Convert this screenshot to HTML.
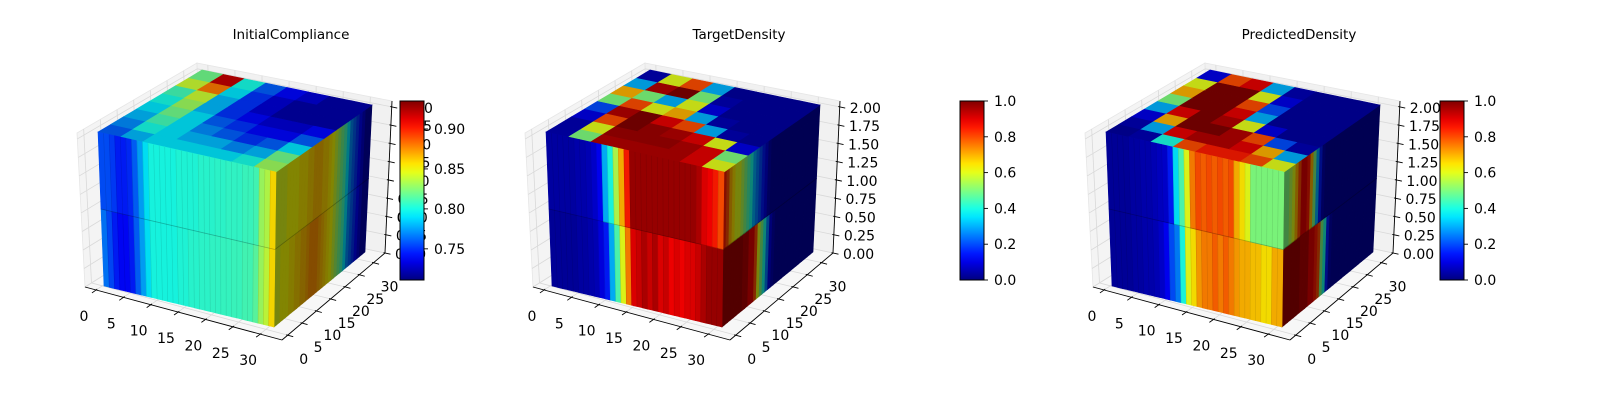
<!DOCTYPE html>
<html><head><meta charset="utf-8"><style>
html,body{margin:0;padding:0;background:#fff;}
svg{display:block;font-family:"DejaVu Sans","Liberation Sans",sans-serif;}
</style></head><body>
<svg id="fig" width="1600" height="400" viewBox="0 0 1600 400" xmlns="http://www.w3.org/2000/svg">
<rect x="0" y="0" width="1600" height="400" fill="#fff"/>
<text x="291" y="39" text-anchor="middle" font-size="13.5">InitialCompliance</text>
<text x="739" y="39" text-anchor="middle" font-size="13.5">TargetDensity</text>
<text x="1299" y="39" text-anchor="middle" font-size="13.5">PredictedDensity</text>
</svg>
<script>
// ---- data ----
const xTicks = [0,5,10,15,20,25,30];
const yTicks = [0,5,10,15,20,25,30];
const zTicks = [0,0.25,0.5,0.75,1.0,1.25,1.5,1.75,2.0];
const zTickLabels = ["0.00","0.25","0.50","0.75","1.00","1.25","1.50","1.75","2.00"];
const cb1Ticks = [0.75,0.80,0.85,0.90];
const cb1Labels = ["0.75","0.80","0.85","0.90"];
const cbTicks = [0,0.2,0.4,0.6,0.8,1.0];
const cbLabels = ["0.0","0.2","0.4","0.6","0.8","1.0"];

const p1FrontTop = [0.756,0.756,0.752,0.745,0.745,0.748,0.76,0.775,0.79,0.80,0.80,0.80,0.80,0.80,0.802,0.802,0.802,0.802,0.804,0.804,0.804,0.805,0.805,0.806,0.806,0.806,0.808,0.808,0.81,0.83,0.835,0.858];
const p1FrontBot = [0.765,0.755,0.745,0.74,0.74,0.745,0.76,0.775,0.79,0.80,0.80,0.80,0.80,0.80,0.802,0.802,0.804,0.804,0.805,0.805,0.806,0.806,0.807,0.807,0.808,0.808,0.81,0.81,0.815,0.83,0.838,0.858];
const p1RightTop = [0.845,0.845,0.845,0.845,0.85,0.85,0.85,0.85,0.855,0.855,0.855,0.86,0.86,0.865,0.865,0.865,0.86,0.86,0.855,0.85,0.84,0.83,0.82,0.81,0.79,0.77,0.76,0.75,0.74,0.73,0.72,0.72];
const p1RightBot = [0.845,0.845,0.85,0.85,0.85,0.855,0.855,0.86,0.86,0.865,0.865,0.87,0.875,0.875,0.875,0.87,0.865,0.86,0.855,0.85,0.84,0.83,0.82,0.81,0.79,0.77,0.76,0.75,0.74,0.73,0.72,0.72];
const p1Top = [
 [0.76,0.78,0.79,0.79,0.79,0.79,0.80,0.83],
 [0.77,0.80,0.79,0.78,0.78,0.77,0.78,0.82],
 [0.78,0.81,0.79,0.77,0.76,0.75,0.76,0.79],
 [0.79,0.82,0.79,0.76,0.75,0.74,0.74,0.76],
 [0.80,0.83,0.78,0.75,0.74,0.73,0.73,0.74],
 [0.81,0.84,0.78,0.75,0.73,0.72,0.72,0.72],
 [0.84,0.88,0.79,0.75,0.73,0.72,0.72,0.72],
 [0.82,0.92,0.80,0.76,0.74,0.73,0.72,0.72]];

const p2FrontTop = [0.04,0.04,0.04,0.04,0.04,0.05,0.05,0.06,0.08,0.12,0.3,0.4,0.55,0.7,0.85,0.97,0.97,0.97,0.97,0.97,0.97,0.97,0.97,0.97,0.97,0.97,0.97,0.95,0.9,0.88,0.85,0.8];
const p2FrontBot = [0.03,0.03,0.03,0.03,0.03,0.04,0.04,0.05,0.06,0.1,0.15,0.3,0.45,0.6,0.75,0.9,0.92,0.95,0.92,0.95,0.9,0.92,0.88,0.9,0.88,0.9,0.9,0.92,0.95,0.97,0.97,0.97];
const p2RightTop = [0.85,0.8,0.7,0.65,0.6,0.6,0.55,0.5,0.45,0.4,0.3,0.25,0.2,0.15,0.1,0.05,0.03,0.03,0.03,0.03,0.03,0.03,0.03,0.03,0.03,0.03,0.03,0.03,0.03,0.03,0.03,0.03];
const p2RightBot = [0.97,0.97,0.97,0.97,0.97,0.97,0.97,0.95,0.95,0.9,0.9,0.8,0.6,0.5,0.4,0.25,0.1,0.05,0.03,0.03,0.03,0.03,0.03,0.03,0.03,0.03,0.03,0.03,0.03,0.03,0.03,0.03];
const p2Top = [
 [0.05,0.5,0.95,0.95,0.95,0.95,0.9,0.6],
 [0.05,0.6,0.97,0.97,0.97,0.95,0.9,0.5],
 [0.1,0.8,1.0,0.97,0.95,0.9,0.6,0.1],
 [0.2,0.95,1.0,0.9,0.8,0.3,0.05,0.03],
 [0.5,0.8,0.6,0.7,0.3,0.05,0.03,0.03],
 [0.7,0.5,0.3,0.6,0.1,0.03,0.03,0.03],
 [0.3,0.95,1.0,0.5,0.05,0.03,0.03,0.03],
 [0.05,0.6,0.8,0.3,0.03,0.03,0.03,0.03]];

const p3FrontTop = [0.03,0.03,0.03,0.03,0.04,0.04,0.05,0.05,0.06,0.07,0.08,0.15,0.35,0.45,0.6,0.75,0.8,0.78,0.8,0.78,0.8,0.78,0.8,0.7,0.65,0.6,0.5,0.5,0.5,0.5,0.5,0.5];
const p3FrontBot = [0.03,0.03,0.03,0.03,0.04,0.04,0.05,0.05,0.06,0.08,0.12,0.2,0.25,0.4,0.6,0.65,0.72,0.75,0.75,0.78,0.75,0.78,0.75,0.72,0.7,0.7,0.68,0.68,0.65,0.65,0.7,0.7];
const p3RightTop = [0.5,0.5,0.55,0.6,0.7,0.8,0.9,0.9,0.85,0.7,0.5,0.3,0.15,0.05,0.03,0.03,0.03,0.03,0.03,0.03,0.03,0.03,0.03,0.03,0.03,0.03,0.03,0.03,0.03,0.03,0.03,0.03];
const p3RightBot = [0.97,0.97,0.97,0.97,0.97,0.97,0.95,0.95,0.95,0.9,0.9,0.85,0.8,0.5,0.4,0.15,0.05,0.03,0.03,0.03,0.03,0.03,0.03,0.03,0.03,0.03,0.03,0.03,0.03,0.03,0.03,0.03];
const p3Top = [
 [0.03,0.05,0.4,0.8,0.85,0.85,0.8,0.6],
 [0.05,0.3,0.9,0.95,0.95,0.9,0.7,0.3],
 [0.1,0.7,1.0,1.0,0.95,0.8,0.2,0.05],
 [0.3,0.9,1.0,0.95,0.6,0.1,0.03,0.03],
 [0.5,1.0,1.0,0.9,0.3,0.03,0.03,0.03],
 [0.7,1.0,1.0,0.8,0.2,0.03,0.03,0.03],
 [0.6,1.0,1.0,0.6,0.1,0.03,0.03,0.03],
 [0.1,0.8,0.9,0.3,0.05,0.03,0.03,0.03]];

// ---- helpers ----
const svg = document.getElementById('fig');
const NS = 'http://www.w3.org/2000/svg';
function mk(tag, attrs){ const e=document.createElementNS(NS,tag); for(const k in attrs) e.setAttribute(k,attrs[k]); svg.appendChild(e); return e; }
function cl(v){return Math.max(0,Math.min(1,v));}
function jet(n){ n=cl(n); return [cl(1.5-Math.abs(4*n-3)), cl(1.5-Math.abs(4*n-2)), cl(1.5-Math.abs(4*n-1))]; }
function rgb(n,s){ const c=jet(n); return 'rgb('+c.map(v=>Math.round(v*s*255)).join(',')+')'; }
function lerp(a,b,t){return [a[0]+(b[0]-a[0])*t, a[1]+(b[1]-a[1])*t];}
function bil(q,u,v){ const a=lerp(q[0],q[1],u), b=lerp(q[2],q[3],u); return lerp(a,b,v); }
function quadPts(q,u0,u1,v0,v1){ return [bil(q,u0,v0),bil(q,u1,v0),bil(q,u1,v1),bil(q,u0,v1)].map(p=>p[0].toFixed(1)+','+p[1].toFixed(1)).join(' '); }
function P(p,dx){return [p[0]+dx,p[1]];}

function drawPlot(dx, key, ft, fb, rt, rb, top, vmin, vmax){
  const norm = v => (v - vmin)/(vmax - vmin);
  const A=P([645,63],dx), B=P([840,101],dx), C=P([833,253],dx), D=P([650,214],dx), E=P([525,133],dx), F=P([533,287],dx), G=P([730,340],dx);
  const pts = a => a.map(p=>p[0]+','+p[1]).join(' ');
  let e;
  e = mk('polygon',{points:pts([A,E,F,D]),fill:'#f4f4f4',stroke:'#e6e6e6','stroke-width':0.8});
  
  
  e = mk('polygon',{points:pts([A,B,C,D]),fill:'#f1f1f1',stroke:'#e6e6e6','stroke-width':0.8});
  
  
  e = mk('polygon',{points:pts([D,F,G,C]),fill:'#f7f7f7',stroke:'#e6e6e6','stroke-width':0.8});
  
  
  const fx = v => (v+2)/36, fz = z => z/2.08;
  const gl = (p,q,name) => { const l=mk('line',{x1:p[0],y1:p[1],x2:q[0],y2:q[1],stroke:'#d9d9d9','stroke-width':0.8});
    
     };
  xTicks.forEach(v=>{ const t=fx(v); const a=lerp(F,G,t), b=lerp(D,C,t), c=lerp(A,B,t); gl(a,b,key+'-x-grid'); gl(b,c,key+'-x-grid'); });
  yTicks.forEach(v=>{ const t=fx(v); const a=lerp(G,C,t), b=lerp(F,D,t), c=lerp(E,A,t); gl(a,b,key+'-y-grid'); gl(b,c,key+'-y-grid'); });
  zTicks.forEach(v=>{ const t=fz(v); const a=lerp(F,E,t), b=lerp(D,A,t), c=lerp(C,B,t); gl(a,b,key+'-z-grid'); gl(b,c,key+'-z-grid'); });
  [[F,G,'x-axis-line'],[G,C,'y-axis-line'],[C,B,'z-axis-line']].forEach(s=>{
    const l=mk('line',{x1:s[0][0],y1:s[0][1],x2:s[1][0],y2:s[1][1],stroke:'#000','stroke-width':0.9});
    
    
  });
  xTicks.forEach(v=>{ const p=lerp(F,G,fx(v));
    const l=mk('line',{x1:p[0]+1.3,y1:p[1]-0.8,x2:p[0]-4,y2:p[1]+3,stroke:'#000','stroke-width':0.9});
    
    
    const t=mk('text',{x:p[0]-12,y:p[1]+31,'text-anchor':'middle','font-size':14}); t.textContent=v;
    
    
  });
  yTicks.forEach(v=>{ const p=lerp(G,C,fx(v));
    const l=mk('line',{x1:p[0]-1.5,y1:p[1]-0.4,x2:p[0]+5.5,y2:p[1]+1.5,stroke:'#000','stroke-width':0.9});
    
    
    const t=mk('text',{x:p[0]+16,y:p[1]+29,'text-anchor':'middle','font-size':14}); t.textContent=v;
    
    
  });
  zTicks.forEach((v,i)=>{ const p=lerp(C,B,fz(v));
    const l=mk('line',{x1:p[0]-1.5,y1:p[1]-0.3,x2:p[0]+5.5,y2:p[1]+1.2,stroke:'#000','stroke-width':0.9});
    
    
    const t=mk('text',{x:p[0]+10,y:p[1]+6,'font-size':14}); t.textContent=zTickLabels[i];
    
    
  });
  const FBL=P([552,286],dx), FBR=P([722,327],dx), FTL=P([546,132],dx), FTR=P([724,172],dx), BTL=P([650,70],dx), BTR=P([820,105],dx), BBR=P([813,252],dx);
  const front=[FBL,FBR,FTL,FTR], right=[FBR,BBR,FTR,BTR], topQ=[FTL,FTR,BTL,BTR];
  const n=ft.length;
  for(let i=0;i<n;i++){
    [[rb,0,0.5],[rt,0.5,1]].forEach(h=>{
      const c=rgb(norm(h[0][i]),0.52);
      const r=mk('polygon',{points:quadPts(right,i/n,(i+1)/n,h[1],h[2]),fill:c,stroke:c,'stroke-width':0.6});
      
      
    });
  }
  const rows=top.length, cols=top[0].length;
  for(let r=0;r<rows;r++) for(let c=0;c<cols;c++){
    const f=rgb(norm(top[r][c]),0.85);
    const q=mk('polygon',{points:quadPts(topQ,c/cols,(c+1)/cols,r/rows,(r+1)/rows),fill:f,stroke:f,'stroke-width':0.6});
    
    
  }
  for(let i=0;i<n;i++){
    [[fb,0,0.5],[ft,0.5,1]].forEach(h=>{
      const c=rgb(norm(h[0][i]),0.95);
      const r=mk('polygon',{points:quadPts(front,i/n,(i+1)/n,h[1],h[2]),fill:c,stroke:c,'stroke-width':0.6});
      
      
    });
  }
  for(let i=1;i<n;i++){
    const a=bil(front,i/n,0), b=bil(front,i/n,1);
    const l=mk('line',{x1:a[0],y1:a[1],x2:b[0],y2:b[1],stroke:'rgba(0,0,0,0.12)','stroke-width':0.6});
    
    
  }
  const s1=bil(front,0,0.5), s2=bil(front,1,0.5), s3=bil(right,1,0.5);
  const seam=mk('polyline',{points:s1.join(',')+' '+s2.join(',')+' '+s3.join(','),fill:'none',stroke:'rgba(0,0,0,0.25)','stroke-width':0.8});
  
  
}

function drawColorbar(x, key, ticks, labels, vmin, vmax){
  const y0=101, y1=280, w=24;
  const gid='g'+key;
  const defs=mk('defs',{});
  const g=document.createElementNS(NS,'linearGradient');
  g.setAttribute('id',gid); g.setAttribute('x1','0'); g.setAttribute('y1','1'); g.setAttribute('x2','0'); g.setAttribute('y2','0');
  for(let i=0;i<=20;i++){ const s=document.createElementNS(NS,'stop'); s.setAttribute('offset',i/20); s.setAttribute('stop-color',rgb(i/20,1)); g.appendChild(s); }
  defs.appendChild(g);
  const r=mk('rect',{x:x,y:y0,width:w,height:y1-y0,fill:'url(#'+gid+')',stroke:'#000','stroke-width':1});
  
  
  ticks.forEach((v,i)=>{ const y=y1-(v-vmin)/(vmax-vmin)*(y1-y0);
    const l=mk('line',{x1:x+w,y1:y,x2:x+w+4,y2:y,stroke:'#000','stroke-width':0.9});
    
    
    const t=mk('text',{x:x+w+10,y:y+5,'font-size':14}); t.textContent=labels[i];
    
    
  });
}

drawPlot(-448,'initial-compliance',p1FrontTop,p1FrontBot,p1RightTop,p1RightBot,p1Top,0.711,0.935);
drawPlot(0,'target-density',p2FrontTop,p2FrontBot,p2RightTop,p2RightBot,p2Top,0,1);
drawPlot(560,'predicted-density',p3FrontTop,p3FrontBot,p3RightTop,p3RightBot,p3Top,0,1);
drawColorbar(400,'initial-compliance',cb1Ticks,cb1Labels,0.711,0.935);
drawColorbar(960,'target-density',cbTicks,cbLabels,0,1);
drawColorbar(1440,'predicted-density',cbTicks,cbLabels,0,1);
</script>
</body></html>
